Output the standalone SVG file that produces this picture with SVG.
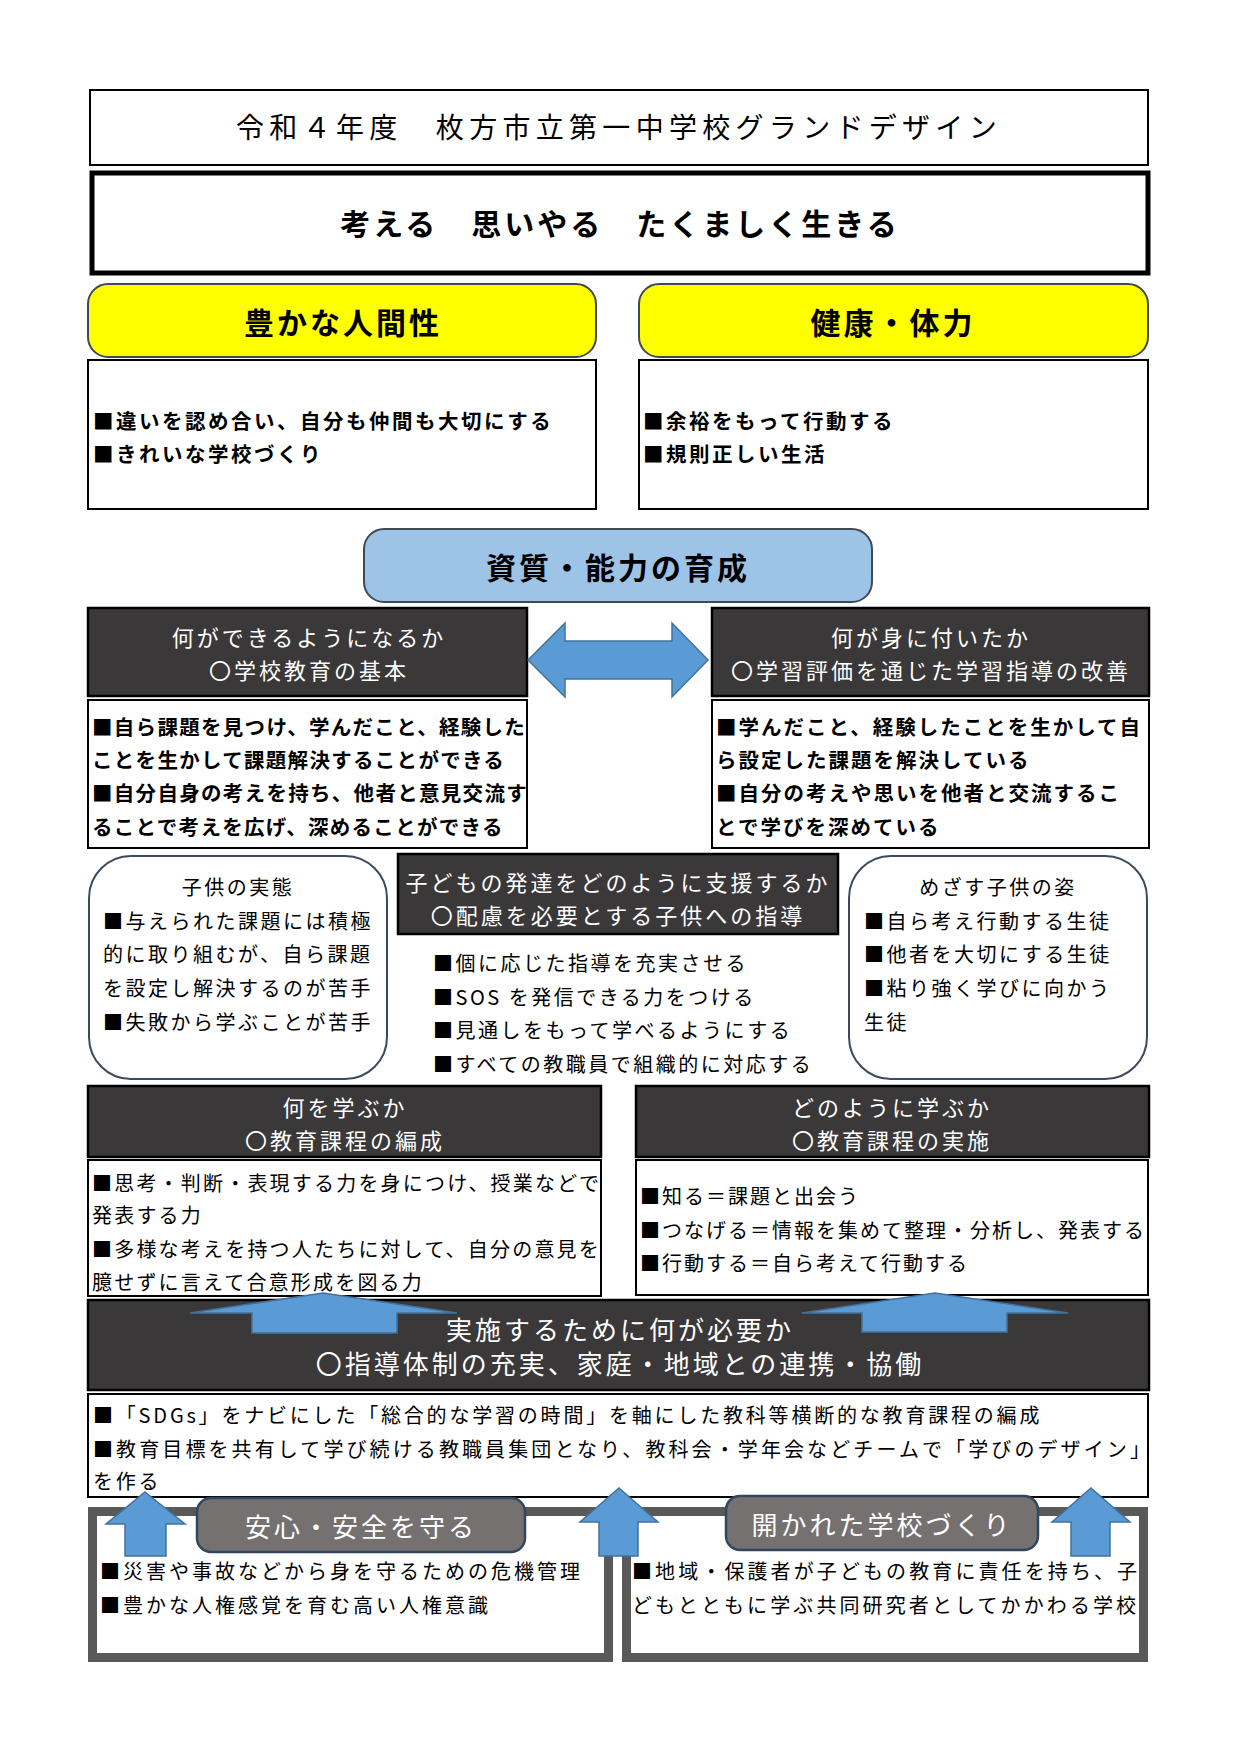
<svg xmlns="http://www.w3.org/2000/svg" width="1241" height="1755" viewBox="0 0 1241 1755">
<style>
text{font-family:"Noto Sans CJK JP","Noto Sans",sans-serif;fill:#000}
.wb{fill:#fff;stroke:#000;stroke-width:2}
.dk{fill:#3a3838;stroke:#000;stroke-width:2.5}
.yl{fill:#ffff00;stroke:#3f4a55;stroke-width:2}
.rb{fill:#fff;stroke:#3b4a5c;stroke-width:2}
.fr{fill:#fff;stroke:#595959;stroke-width:9}
.pill{fill:#767171;stroke:#33475c;stroke-width:2.5}
.arr{fill:#5b9bd5;stroke:#41719c;stroke-width:1.5}
.t1{font-size:28px;letter-spacing:5.3px}
.hb{font-size:30px;font-weight:bold;letter-spacing:3px}
.bb{font-size:20.5px;font-weight:bold;letter-spacing:2px}
.hw{font-size:22px;fill:#fff;letter-spacing:3px}
.hw2{font-size:26px;fill:#fff;letter-spacing:3px}
.bt{font-size:20px;letter-spacing:2.5px}
.pt{font-size:26px;fill:#fff;letter-spacing:3px}
</style>

<g id="title">
<rect x="90" y="90" width="1058" height="75" class="wb"/>
<text x="619" y="126" class="t1" text-anchor="middle" dominant-baseline="central">令和４年度　枚方市立第一中学校グランドデザイン</text>
</g>

<g id="motto">
<rect x="92" y="173" width="1056" height="100" fill="#fff" stroke="#000" stroke-width="5"/>
<text x="620" y="222" class="hb" text-anchor="middle" dominant-baseline="central">考える　思いやる　たくましく生きる</text>
</g>

<g id="humanity">
<rect x="88" y="284" width="508" height="73" rx="20" class="yl"/>
<text x="343" y="321" class="hb" text-anchor="middle" dominant-baseline="central">豊かな人間性</text>
<rect x="88" y="360" width="508" height="149" class="wb"/>
<text x="93" y="420" class="bb" dominant-baseline="central" style="letter-spacing:2.5px">■違いを認め合い、自分も仲間も大切にする</text>
<text x="93" y="453" class="bb" dominant-baseline="central" style="letter-spacing:2.5px">■きれいな学校づくり</text>
</g>

<g id="health">
<rect x="639" y="284" width="509" height="73" rx="20" class="yl"/>
<text x="893" y="321" class="hb" text-anchor="middle" dominant-baseline="central">健康・体力</text>
<rect x="639" y="360" width="509" height="149" class="wb"/>
<text x="643" y="420" class="bb" dominant-baseline="central" style="letter-spacing:2.5px">■余裕をもって行動する</text>
<text x="643" y="453" class="bb" dominant-baseline="central" style="letter-spacing:2.5px">■規則正しい生活</text>
</g>

<g id="competence">
<rect x="364" y="529" width="508" height="73" rx="20" fill="#9dc3e6" stroke="#3f4a55" stroke-width="2"/>
<text x="618" y="566" class="hb" text-anchor="middle" dominant-baseline="central">資質・能力の育成</text>
</g>

<g id="can-do">
<rect x="88" y="608" width="439" height="88" class="dk"/>
<text x="309" y="636" class="hw" text-anchor="middle" dominant-baseline="central">何ができるようになるか</text>
<text x="309" y="669" class="hw" text-anchor="middle" dominant-baseline="central">〇学校教育の基本</text>
<rect x="88" y="700" width="439" height="148" class="wb"/>
<text x="92" y="726" class="bb" dominant-baseline="central" style="letter-spacing:1.3px">■自ら課題を見つけ、学んだこと、経験した</text>
<text x="92" y="759" class="bb" dominant-baseline="central" style="letter-spacing:1.3px">ことを生かして課題解決することができる</text>
<text x="92" y="792" class="bb" dominant-baseline="central" style="letter-spacing:1.3px">■自分自身の考えを持ち、他者と意見交流す</text>
<text x="92" y="826" class="bb" dominant-baseline="central" style="letter-spacing:1.3px">ることで考えを広げ、深めることができる</text>
</g>

<g id="acquired">
<rect x="712" y="608" width="437" height="88" class="dk"/>
<text x="931" y="636" class="hw" text-anchor="middle" dominant-baseline="central">何が身に付いたか</text>
<text x="931" y="669" class="hw" text-anchor="middle" dominant-baseline="central">〇学習評価を通じた学習指導の改善</text>
<rect x="712" y="700" width="437" height="148" class="wb"/>
<text x="716" y="726" class="bb" dominant-baseline="central">■学んだこと、経験したことを生かして自</text>
<text x="716" y="759" class="bb" dominant-baseline="central">ら設定した課題を解決している</text>
<text x="716" y="792" class="bb" dominant-baseline="central">■自分の考えや思いを他者と交流するこ</text>
<text x="716" y="826" class="bb" dominant-baseline="central">とで学びを深めている</text>
</g>

<g id="child-state">
<rect x="89" y="856" width="298" height="223" rx="42" class="rb"/>
<text x="238" y="886" class="bt" text-anchor="middle" dominant-baseline="central">子供の実態</text>
<text x="103" y="920" class="bt" dominant-baseline="central">■与えられた課題には積極</text>
<text x="103" y="953" class="bt" dominant-baseline="central">的に取り組むが、自ら課題</text>
<text x="103" y="987" class="bt" dominant-baseline="central">を設定し解決するのが苦手</text>
<text x="103" y="1021" class="bt" dominant-baseline="central">■失敗から学ぶことが苦手</text>
</g>

<g id="support">
<rect x="398" y="854" width="440" height="80" class="dk"/>
<text x="618" y="881" class="hw" text-anchor="middle" dominant-baseline="central">子どもの発達をどのように支援するか</text>
<text x="618" y="914" class="hw" text-anchor="middle" dominant-baseline="central">〇配慮を必要とする子供への指導</text>
<text x="433" y="962" class="bt" dominant-baseline="central">■個に応じた指導を充実させる</text>
<text x="433" y="996" class="bt" dominant-baseline="central">■SOS を発信できる力をつける</text>
<text x="433" y="1029" class="bt" dominant-baseline="central">■見通しをもって学べるようにする</text>
<text x="433" y="1063" class="bt" dominant-baseline="central">■すべての教職員で組織的に対応する</text>
</g>

<g id="goal-child">
<rect x="849" y="856" width="298" height="223" rx="42" class="rb"/>
<text x="998" y="886" class="bt" text-anchor="middle" dominant-baseline="central">めざす子供の姿</text>
<text x="864" y="920" class="bt" dominant-baseline="central">■自ら考え行動する生徒</text>
<text x="864" y="953" class="bt" dominant-baseline="central">■他者を大切にする生徒</text>
<text x="864" y="987" class="bt" dominant-baseline="central">■粘り強く学びに向かう</text>
<text x="864" y="1021" class="bt" dominant-baseline="central">生徒</text>
</g>

<g id="what-learn">
<rect x="88" y="1086" width="513" height="71" class="dk"/>
<text x="345" y="1106" class="hw" text-anchor="middle" dominant-baseline="central">何を学ぶか</text>
<text x="345" y="1139" class="hw" text-anchor="middle" dominant-baseline="central">〇教育課程の編成</text>
<rect x="88" y="1160" width="513" height="136" class="wb"/>
<text x="92" y="1182" class="bt" dominant-baseline="central" style="letter-spacing:2.2px">■思考・判断・表現する力を身につけ、授業などで</text>
<text x="92" y="1214" class="bt" dominant-baseline="central" style="letter-spacing:2.2px">発表する力</text>
<text x="92" y="1248" class="bt" dominant-baseline="central" style="letter-spacing:2.2px">■多様な考えを持つ人たちに対して、自分の意見を</text>
<text x="92" y="1281" class="bt" dominant-baseline="central" style="letter-spacing:2.2px">臆せずに言えて合意形成を図る力</text>
</g>

<g id="how-learn">
<rect x="636" y="1086" width="513" height="71" class="dk"/>
<text x="892" y="1106" class="hw" text-anchor="middle" dominant-baseline="central">どのように学ぶか</text>
<text x="892" y="1139" class="hw" text-anchor="middle" dominant-baseline="central">〇教育課程の実施</text>
<rect x="636" y="1160" width="512" height="135" class="wb"/>
<text x="640" y="1195" class="bt" dominant-baseline="central" style="letter-spacing:2px">■知る＝課題と出会う</text>
<text x="640" y="1229" class="bt" dominant-baseline="central" style="letter-spacing:2px">■つなげる＝情報を集めて整理・分析し、発表する</text>
<text x="640" y="1262" class="bt" dominant-baseline="central" style="letter-spacing:2px">■行動する＝自ら考えて行動する</text>
</g>

<g id="needs">
<rect x="88" y="1300" width="1061" height="90" class="dk"/>
<text x="620" y="1328" class="hw2" text-anchor="middle" dominant-baseline="central">実施するために何が必要か</text>
<text x="620" y="1362" class="hw2" text-anchor="middle" dominant-baseline="central">〇指導体制の充実、家庭・地域との連携・協働</text>
<rect x="88" y="1394" width="1060" height="103" class="wb"/>
<text x="93" y="1414" class="bt" dominant-baseline="central" style="letter-spacing:2.8px">■「SDGs」をナビにした「総合的な学習の時間」を軸にした教科等横断的な教育課程の編成</text>
<text x="93" y="1448" class="bt" dominant-baseline="central" style="letter-spacing:3.1px">■教育目標を共有して学び続ける教職員集団となり、教科会・学年会などチームで「学びのデザイン」</text>
<text x="93" y="1480" class="bt" dominant-baseline="central" style="letter-spacing:2.8px">を作る</text>
</g>

<g id="safety">
<rect x="92.5" y="1511.5" width="516" height="146" class="fr"/>
<text x="100" y="1570" class="bt" dominant-baseline="central" style="letter-spacing:3px">■災害や事故などから身を守るための危機管理</text>
<text x="100" y="1604" class="bt" dominant-baseline="central" style="letter-spacing:3px">■豊かな人権感覚を育む高い人権意識</text>
<rect x="197" y="1498" width="328" height="54" rx="14" class="pill"/>
<text x="361" y="1525" class="pt" text-anchor="middle" dominant-baseline="central">安心・安全を守る</text>
</g>

<g id="open-school">
<rect x="626.5" y="1511.5" width="517" height="146" class="fr"/>
<text x="632" y="1570" class="bt" dominant-baseline="central" style="letter-spacing:3.1px">■地域・保護者が子どもの教育に責任を持ち、子</text>
<text x="632" y="1604" class="bt" dominant-baseline="central" style="letter-spacing:3.1px">どもとともに学ぶ共同研究者としてかかわる学校</text>
<rect x="726" y="1496" width="312" height="54" rx="14" class="pill"/>
<text x="882" y="1523" class="pt" text-anchor="middle" dominant-baseline="central">開かれた学校づくり</text>
</g>

<g id="connectors">
<polygon class="arr" points="528,660 565,623 565,641 672,641 672,623 708,660 672,697 672,679 565,679 565,697"/>
<polygon class="arr" points="323,1293 457,1313 397,1313 397,1333 252,1333 252,1313 190,1313"/>
<polygon class="arr" points="935,1293 1068,1313 1007,1313 1007,1332 862,1332 862,1313 802,1313"/>
<polygon class="arr" points="145,1492 185,1524 166,1524 166,1556 125,1556 125,1524 106,1524"/>
<polygon class="arr" points="619,1488 658,1522 638,1522 638,1556 599,1556 599,1522 580,1522"/>
<polygon class="arr" points="1091,1488 1130,1522 1110,1522 1110,1556 1071,1556 1071,1522 1052,1522"/>
</g>
</svg>
